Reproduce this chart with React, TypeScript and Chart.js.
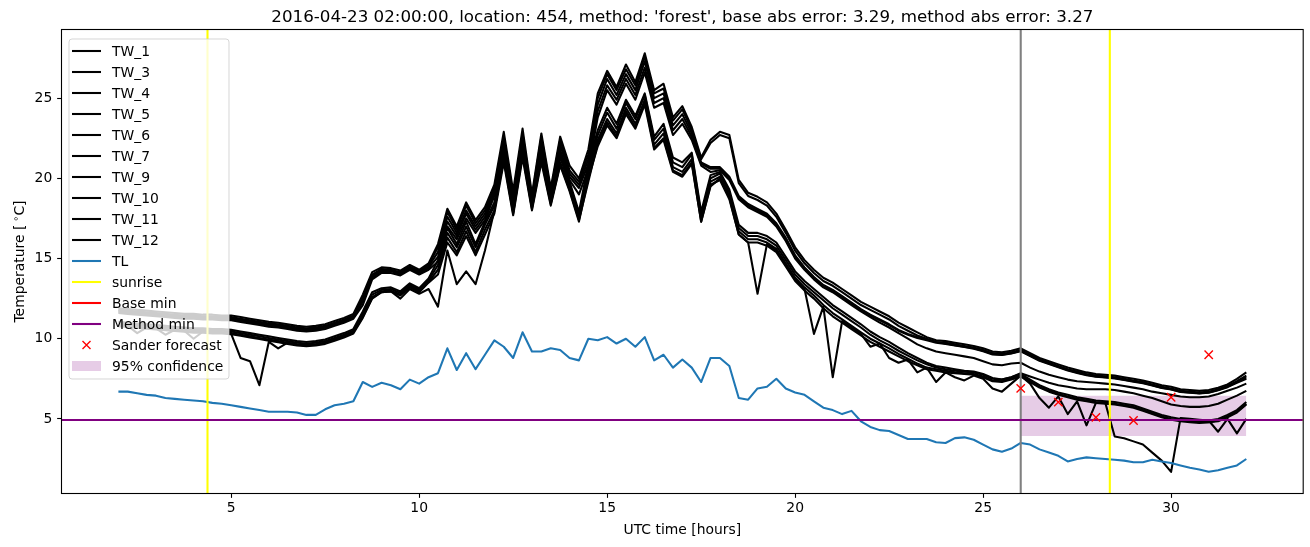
import React, { useEffect, useRef } from "react";
import { Chart, registerables } from "chart.js";

Chart.register(...registerables);

const FONT = '"DejaVu Sans", "Liberation Sans", sans-serif';

const titleText =
  "2016-04-23 02:00:00, location: 454, method: 'forest', base abs error: 3.29, method abs error: 3.27";
const xLabel = "UTC time [hours]";

const xMin = 0.5;
const xMax = 33.5;
const yMin = 0.38;
const yMax = 29.25;
const xTicks = [5, 10, 15, 20, 25, 30];
const yTicks = [5, 10, 15, 20, 25];

const hours = [
  2, 2.25, 2.5, 2.75, 3, 3.25, 3.5, 3.75, 4, 4.25,
  4.5, 4.75, 5, 5.25, 5.5, 5.75, 6, 6.25, 6.5, 6.75,
  7, 7.25, 7.5, 7.75, 8, 8.25, 8.5, 8.75, 9, 9.25,
  9.5, 9.75, 10, 10.25, 10.5, 10.75, 11, 11.25, 11.5, 11.75,
  12, 12.25, 12.5, 12.75, 13, 13.25, 13.5, 13.75, 14, 14.25,
  14.5, 14.75, 15, 15.25, 15.5, 15.75, 16, 16.25, 16.5, 16.75,
  17, 17.25, 17.5, 17.75, 18, 18.25, 18.5, 18.75, 19, 19.25,
  19.5, 19.75, 20, 20.25, 20.5, 20.75, 21, 21.25, 21.5, 21.75,
  22, 22.25, 22.5, 22.75, 23, 23.25, 23.5, 23.75, 24, 24.25,
  24.5, 24.75, 25, 25.25, 25.5, 25.75, 26, 26.25, 26.5, 26.75,
  27, 27.25, 27.5, 27.75, 28, 28.25, 28.5, 28.75, 29, 29.25,
  29.5, 29.75, 30, 30.25, 30.5, 30.75, 31, 31.25, 31.5, 31.75,
  32,
];

const tw1 = [
  11.9, 11.85, 11.8, 11.75, 11.7, 11.65, 11.6, 11.55, 11.55, 11.5,
  11.5, 11.45, 11.45, 11.35, 11.25, 11.15, 11.05, 11.0, 10.9, 10.8,
  10.75, 10.8, 10.9, 11.1, 11.3, 11.55, 12.75, 14.15, 14.45, 14.4,
  14.25, 14.6, 14.3, 14.7, 15.9, 18.1, 17.0, 18.5, 17.4, 18.2,
  19.6, 22.9, 19.2, 23.1, 19.0, 22.8, 19.4, 22.6, 20.8, 20.0,
  21.8, 25.3, 26.7, 25.7, 27.1, 26.0, 27.8, 25.5, 25.9, 23.8,
  24.5, 23.2, 21.3, 22.4, 22.9, 22.7, 19.9, 19.1, 18.85, 18.5,
  17.8, 16.8, 15.7, 14.9, 14.3, 13.8, 13.5, 13.1, 12.7, 12.3,
  12.0, 11.7, 11.4, 11.0, 10.7, 10.4, 10.1, 9.9, 9.85, 9.75,
  9.65, 9.55, 9.4, 9.2, 9.15, 9.25, 9.4, 9.1, 8.8, 8.6,
  8.4, 8.2, 8.05, 7.9, 7.8, 7.75, 7.7, 7.6, 7.5, 7.4,
  7.25, 7.1, 7.0, 6.85, 6.8, 6.75, 6.8, 6.95, 7.15, 7.5,
  7.9,
];

const tw3 = [
  11.8, 11.75, 11.7, 11.65, 11.6, 11.55, 11.5, 11.45, 11.45, 11.4,
  11.4, 11.35, 11.35, 11.25, 11.15, 11.05, 10.95, 10.9, 10.8, 10.7,
  10.65, 10.7, 10.8, 11.0, 11.2, 11.45, 12.6, 14.0, 14.35, 14.3,
  14.15, 14.5, 14.2, 14.6, 15.7, 17.9, 16.8, 18.3, 17.2, 18.0,
  19.4, 22.6, 18.9, 22.8, 18.8, 22.6, 19.2, 22.4, 20.5, 19.8,
  21.5, 25.0, 26.5, 25.5, 26.8, 25.8, 27.6, 25.3, 25.6, 23.6,
  24.3, 23.0, 21.2, 22.2, 22.7, 22.5, 19.7, 18.9, 18.65, 18.3,
  17.6, 16.6, 15.5, 14.7, 14.1, 13.6, 13.3, 12.9, 12.5, 12.1,
  11.8, 11.5, 11.2, 10.8, 10.5, 10.2, 10.0, 9.8, 9.75, 9.65,
  9.55, 9.45, 9.3, 9.1, 9.05, 9.15, 9.3, 9.0, 8.7, 8.5,
  8.3, 8.1, 7.95, 7.8, 7.7, 7.65, 7.6, 7.5, 7.4, 7.3,
  7.15, 7.0, 6.9, 6.75, 6.7, 6.65, 6.7, 6.85, 7.05, 7.35,
  7.7,
];

const tw4 = [
  11.75, 11.7, 11.65, 11.6, 11.55, 11.5, 11.45, 11.4, 11.4, 11.35,
  11.35, 11.3, 11.3, 11.2, 11.1, 11.0, 10.9, 10.85, 10.75, 10.65,
  10.6, 10.65, 10.75, 10.95, 11.15, 11.4, 12.45, 13.9, 14.3, 14.25,
  14.1, 14.45, 14.15, 14.5, 15.4, 17.6, 16.6, 18.0, 17.0, 17.8,
  19.3, 22.2, 18.7, 22.5, 18.6, 22.3, 19.0, 22.1, 20.3, 19.6,
  21.2, 24.6, 26.2, 25.2, 26.5, 25.5, 27.3, 25.0, 25.3, 23.3,
  24.0, 22.8, 21.0, 20.7, 20.7, 20.1, 18.9, 18.4, 18.1, 17.8,
  17.2, 16.3, 15.2, 14.45, 13.85, 13.35, 13.05, 12.65, 12.25, 11.85,
  11.5, 11.2, 10.9, 10.55, 10.3, 10.1, 9.95, 9.8, 9.7, 9.6,
  9.5, 9.4, 9.25, 9.05, 9.0, 9.1, 9.25, 8.95, 8.65, 8.45,
  8.25, 8.05, 7.9, 7.75, 7.65, 7.6, 7.55, 7.45, 7.35, 7.25,
  7.1, 6.95, 6.85, 6.7, 6.65, 6.6, 6.65, 6.8, 7.0, 7.3,
  7.6,
];

const tw5 = [
  11.68, 11.63, 11.58, 11.53, 11.48, 11.43, 11.38, 11.33, 11.33, 11.28,
  11.28, 11.23, 11.23, 11.13, 11.03, 10.93, 10.83, 10.78, 10.68, 10.58,
  10.53, 10.58, 10.68, 10.88, 11.08, 11.33, 12.3, 13.8, 14.22, 14.2,
  14.03, 14.38, 14.08, 14.4, 15.1, 17.3, 16.4, 17.8, 16.8, 17.6,
  19.1, 21.9, 18.5, 22.2, 18.4, 22.0, 18.8, 21.8, 20.1, 19.4,
  20.9, 24.2, 25.8, 24.9, 26.2, 25.2, 26.9, 24.7, 25.0, 23.0,
  23.7, 22.6, 20.9, 20.6, 20.6, 20.0, 18.8, 18.3, 18.0, 17.7,
  17.1, 16.2, 15.1, 14.4, 13.8, 13.3, 13.0, 12.6, 12.2, 11.8,
  11.45, 11.15, 10.85, 10.5, 10.25, 10.05, 9.9, 9.75, 9.68, 9.58,
  9.48, 9.38, 9.22, 9.02, 8.98, 9.08, 9.22, 8.92, 8.62, 8.42,
  8.22, 8.02, 7.87, 7.73, 7.63, 7.58, 7.52, 7.42, 7.32, 7.22,
  7.08, 6.93, 6.83, 6.68, 6.63, 6.58, 6.63, 6.78, 6.98, 7.25,
  7.5,
];

const tw6 = [
  11.6, 11.55, 11.5, 11.45, 11.4, 11.35, 11.3, 11.25, 11.25, 11.2,
  11.2, 11.15, 11.15, 11.05, 10.95, 10.85, 10.75, 10.7, 10.6, 10.5,
  10.45, 10.5, 10.6, 10.8, 11.0, 11.25, 12.1, 13.7, 14.1, 14.1,
  13.95, 14.3, 14.0, 14.3, 14.8, 17.0, 16.2, 17.5, 16.6, 17.4,
  18.9, 21.6, 18.3, 21.9, 18.3, 21.7, 18.6, 21.6, 19.9, 19.0,
  20.6, 23.8, 25.5, 24.6, 25.9, 24.9, 26.6, 24.4, 24.7, 22.7,
  23.4, 22.4, 20.8, 20.4, 20.5, 19.9, 18.7, 18.2, 17.9, 17.6,
  17.0, 16.1, 15.0, 14.3, 13.7, 13.2, 12.9, 12.5, 12.1, 11.7,
  11.35, 11.0, 10.7, 10.35, 10.0, 9.65, 9.4, 9.2, 9.1, 9.0,
  8.9, 8.8, 8.6, 8.4, 8.35, 8.45, 8.5, 8.2, 7.95, 7.75,
  7.6, 7.45, 7.35, 7.3, 7.25, 7.2, 7.15, 7.05, 6.95, 6.85,
  6.7, 6.6, 6.5, 6.4, 6.35, 6.35, 6.4, 6.55, 6.75, 6.95,
  7.2,
];

const tw7 = [
  11.05, 11.0, 10.95, 10.9, 10.85, 10.8, 10.75, 10.7, 10.65, 10.65,
  10.6, 10.6, 10.55, 10.45, 10.35, 10.25, 10.15, 10.05, 9.95, 9.85,
  9.8, 9.85, 9.95, 10.15, 10.35, 10.6, 11.7, 12.9, 13.15, 13.2,
  12.95, 13.45, 13.15, 13.75, 14.9, 16.9, 15.9, 17.3, 15.9, 17.3,
  18.5, 21.9, 18.2, 22.1, 18.5, 21.8, 18.8, 21.5, 19.8, 17.9,
  20.9, 23.0, 24.4, 23.4, 24.9, 23.9, 25.3, 22.6, 23.4, 21.3,
  21.0, 21.6, 17.9, 20.2, 20.4, 19.3, 17.1, 16.6, 16.6, 16.4,
  16.0, 15.1, 14.2, 13.6, 13.1, 12.6, 12.1, 11.7, 11.3, 10.9,
  10.45, 10.1, 9.8, 9.45, 9.1, 8.8, 8.5, 8.3, 8.2, 8.1,
  8.0, 7.95, 7.8, 7.55, 7.45, 7.6, 7.85, 7.65, 7.45, 7.25,
  7.1, 7.0, 6.9, 6.85, 6.85, 6.85, 6.8, 6.7, 6.6, 6.45,
  6.3, 6.1, 5.9, 5.8, 5.75, 5.75, 5.8, 5.95, 6.2, 6.45,
  6.75,
];

const tw9 = [
  10.95, 10.9, 10.85, 10.8, 10.75, 10.7, 10.65, 10.6, 10.55, 10.55,
  10.5, 10.5, 10.45, 10.35, 10.25, 10.15, 10.05, 9.95, 9.85, 9.75,
  9.7, 9.75, 9.85, 10.05, 10.25, 10.5, 11.55, 12.75, 13.05, 13.1,
  12.85, 13.35, 13.05, 13.65, 14.6, 16.6, 15.7, 17.0, 15.7, 17.1,
  18.3, 21.6, 18.1, 21.9, 18.4, 21.6, 18.7, 21.3, 19.6, 17.7,
  20.6, 22.7, 24.1, 23.1, 24.7, 23.7, 25.2, 22.4, 23.1, 21.0,
  20.7, 21.5, 17.7, 20.0, 20.3, 19.1, 16.9, 16.4, 16.4, 16.2,
  15.8, 14.9, 14.0, 13.4, 12.9, 12.4, 11.9, 11.5, 11.1, 10.7,
  10.25, 9.9, 9.6, 9.25, 8.95, 8.65, 8.4, 8.2, 8.1, 8.0,
  7.95, 7.9, 7.75, 7.5, 7.45, 7.6, 7.8, 7.45, 7.1, 6.85,
  6.65, 6.5, 6.35, 6.25, 6.15, 6.1, 6.05, 5.95, 5.85, 5.65,
  5.45, 5.25, 5.1, 5.0, 4.95, 4.9, 4.9, 5.0, 5.25, 5.55,
  6.05,
];

const tw10 = [
  10.85, 10.8, 10.75, 10.7, 10.65, 10.6, 10.55, 10.5, 10.45, 10.45,
  10.4, 10.4, 10.35, 10.25, 10.15, 10.05, 9.95, 9.85, 9.75, 9.65,
  9.6, 9.65, 9.75, 9.95, 10.15, 10.4, 11.4, 12.6, 12.95, 13.0,
  12.75, 13.25, 12.95, 13.55, 14.3, 16.3, 15.4, 16.7, 15.4, 16.8,
  18.0, 21.3, 17.9, 21.6, 18.2, 21.3, 18.5, 21.0, 19.4, 17.5,
  20.3, 22.4, 23.7, 22.8, 24.4, 23.4, 24.9, 22.1, 22.8, 20.7,
  20.4, 21.2, 17.5, 19.8, 20.1, 18.9, 16.7, 16.2, 16.2, 16.0,
  15.6, 14.7, 13.8, 13.2, 12.7, 12.1, 11.6, 11.2, 10.8, 10.4,
  10.0, 9.7, 9.4, 9.05, 8.75, 8.45, 8.2, 8.1, 8.0, 7.9,
  7.85, 7.8, 7.65, 7.4, 7.35, 7.5, 7.7, 7.35, 7.0, 6.75,
  6.55, 6.4, 6.25, 6.15, 6.05, 6.0, 5.95, 5.85, 5.75, 5.55,
  5.35, 5.15, 5.0, 4.9, 4.85, 4.8, 4.8, 4.9, 5.15, 5.45,
  5.95,
];

const tw11 = [
  10.78, 10.73, 10.68, 10.63, 10.58, 10.53, 10.48, 10.43, 10.38, 10.38,
  10.33, 10.33, 10.28, 10.18, 10.08, 9.98, 9.88, 9.78, 9.68, 9.58,
  9.53, 9.58, 9.68, 9.88, 10.08, 10.33, 11.3, 12.5, 12.9, 12.95,
  12.7, 13.2, 12.9, 13.5, 14.0, 16.0, 15.2, 16.4, 15.2, 16.5,
  17.8, 21.0, 17.7, 21.3, 18.0, 21.0, 18.3, 20.8, 19.2, 17.3,
  20.0, 22.0, 23.3, 22.5, 24.0, 23.1, 24.6, 21.8, 22.4, 20.4,
  20.1, 20.9, 17.3, 19.6, 19.9, 18.7, 16.5, 16.0, 16.0, 15.8,
  15.4, 14.5, 13.6, 13.0, 12.5, 11.9, 11.4, 11.0, 10.6, 10.2,
  9.8, 9.5, 9.2, 8.9, 8.6, 8.35, 8.1, 8.0, 7.9, 7.85,
  7.8, 7.75, 7.6, 7.35, 7.3, 7.45, 7.65, 7.3, 6.95, 6.7,
  6.5, 6.35, 6.2, 6.1, 6.0, 5.95, 5.9, 5.8, 5.7, 5.5,
  5.3, 5.1, 4.95, 4.85, 4.8, 4.75, 4.8, 4.85, 5.1, 5.4,
  5.9,
];

const tw12 = [
  10.85, 10.8, 10.35, 10.7, 10.65, 10.25, 10.55, 10.5, 10.0, 10.45,
  10.4, 10.4, 10.3, 8.8, 8.6, 7.1, 9.8, 9.4, 9.75, 9.65,
  9.6, 9.65, 9.75, 9.95, 10.15, 10.4, 11.35, 12.55, 12.9, 12.95,
  12.5, 13.1, 12.8, 13.1, 12.0, 15.5, 13.4, 14.2, 13.4, 15.5,
  18.0, 21.2, 17.8, 21.5, 18.1, 21.2, 18.4, 20.9, 19.3, 17.4,
  19.8, 22.2, 23.5, 22.6, 24.2, 23.2, 24.8, 21.9, 22.5, 20.5,
  20.2, 21.0, 17.3, 19.5, 20.0, 18.8, 16.5, 16.0, 12.8, 15.9,
  15.5, 14.6, 13.7, 13.1, 10.3, 12.0, 7.6, 11.1, 10.7, 10.3,
  9.5, 9.7, 8.8, 8.5, 8.7, 7.9, 8.2, 7.3, 7.9, 7.6,
  7.4, 7.7, 7.5, 6.9, 6.7, 7.2, 7.7, 7.2, 6.3, 5.7,
  6.4, 5.3, 6.1, 4.6, 6.0, 6.0, 3.9, 3.8, 3.6, 3.4,
  2.9, 2.4, 1.7, 5.05, 5.0, 4.95, 4.9, 4.2, 5.0, 4.1,
  5.0,
];

const tl = [
  6.7, 6.7, 6.6, 6.5, 6.45, 6.3, 6.25, 6.2, 6.15, 6.1,
  6.0, 5.95, 5.85, 5.75, 5.65, 5.55, 5.45, 5.45, 5.45, 5.4,
  5.25, 5.25, 5.6, 5.85, 5.95, 6.1, 7.3, 7.0, 7.25, 7.1,
  6.85, 7.45, 7.2, 7.6, 7.85, 9.4, 8.05, 9.1, 8.1, 9.0,
  9.9, 9.5, 8.8, 10.4, 9.2, 9.2, 9.4, 9.3, 8.8, 8.65,
  10.0, 9.9, 10.1, 9.7, 10.0, 9.5, 10.1, 8.65, 9.0, 8.2,
  8.7, 8.2, 7.3, 8.8, 8.8, 8.3, 6.3, 6.2, 6.9, 7.0,
  7.5, 6.9, 6.65, 6.5, 6.1, 5.7, 5.55, 5.3, 5.5, 4.85,
  4.5, 4.3, 4.25, 4.0, 3.75, 3.75, 3.75, 3.55, 3.5, 3.8,
  3.85, 3.7, 3.4, 3.1, 2.95, 3.15, 3.5, 3.4, 3.1, 2.9,
  2.7, 2.35, 2.5, 2.6, 2.55, 2.5, 2.45, 2.4, 2.3, 2.3,
  2.45, 2.35, 2.25, 2.1, 1.95, 1.85, 1.7, 1.8, 1.95, 2.1,
  2.5,
];

const twLabels = ["TW_1", "TW_3", "TW_4", "TW_5", "TW_6", "TW_7", "TW_9", "TW_10", "TW_11", "TW_12"];
const twSeries = [tw1, tw3, tw4, tw5, tw6, tw7, tw9, tw10, tw11, tw12];

const sunriseHours = [4.37, 28.37];
const forecastHour = 26;
const baseMin = 4.93;
const methodMin = 4.93;
const sanderHours = [26, 27, 28, 29, 30, 31];
const sanderTemps = [6.9, 6.05, 5.1, 4.9, 6.35, 9.0];
const confHours = [26, 32];
const confLow = 3.94;
const confHigh = 6.44;

const TL_COLOR = "#1f77b4";
const CONF_COLOR = "rgba(128,0,128,0.2)";
const LW = 2.08;

type LegendItem = { label: string; kind: "line" | "marker" | "patch"; color: string };
const legendItems: LegendItem[] = [
  ...twLabels.map((l) => ({ label: l, kind: "line" as const, color: "#000000" })),
  { label: "TL", kind: "line", color: TL_COLOR },
  { label: "sunrise", kind: "line", color: "#ffff00" },
  { label: "Base min", kind: "line", color: "#ff0000" },
  { label: "Method min", kind: "line", color: "#800080" },
  { label: "Sander forecast", kind: "marker", color: "#ff0000" },
  { label: "95% confidence", kind: "patch", color: CONF_COLOR },
];

const decorPlugin = {
  id: "decor",
  afterDraw(chart: any) {
    const { ctx, chartArea: a } = chart;
    ctx.save();
    // frame
    ctx.strokeStyle = "#000";
    ctx.lineWidth = 1.1;
    ctx.strokeRect(a.left - 0.5, a.top - 0.5, a.right - a.left + 1, a.bottom - a.top + 1);

    // title
    const cx = (a.left + a.right) / 2;
    ctx.fillStyle = "#000";
    ctx.font = `16.7px ${FONT}`;
    ctx.textAlign = "center";
    ctx.textBaseline = "alphabetic";
    ctx.fillText(titleText, cx, 22);

    // x label
    ctx.font = `13.9px ${FONT}`;
    ctx.textBaseline = "middle";
    ctx.fillText(xLabel, cx, 530);

    // y label with superscript degree
    ctx.save();
    ctx.translate(24, (a.top + a.bottom) / 2);
    ctx.rotate(-Math.PI / 2);
    ctx.textAlign = "left";
    ctx.textBaseline = "alphabetic";
    const big = `13.9px ${FONT}`;
    const small = `9.7px ${FONT}`;
    const p1 = "Temperature [";
    const p2 = "\u2218";
    const p3 = "C]";
    ctx.font = big;
    const w1 = ctx.measureText(p1).width;
    const w3 = ctx.measureText(p3).width;
    ctx.font = small;
    const w2 = ctx.measureText(p2).width;
    const gap = 3;
    let x = -(w1 + gap + w2 + w3) / 2;
    ctx.font = big;
    ctx.fillText(p1, x, 0);
    x += w1 + gap;
    ctx.font = small;
    ctx.fillText(p2, x, -5);
    x += w2;
    ctx.font = big;
    ctx.fillText(p3, x, 0);
    ctx.restore();

    // legend
    const lx = a.left + 7;
    const ly = a.top + 9;
    const lw = 160;
    const lh = 340;
    ctx.beginPath();
    const r = 3;
    ctx.moveTo(lx + r, ly);
    ctx.lineTo(lx + lw - r, ly);
    ctx.arcTo(lx + lw, ly, lx + lw, ly + r, r);
    ctx.lineTo(lx + lw, ly + lh - r);
    ctx.arcTo(lx + lw, ly + lh, lx + lw - r, ly + lh, r);
    ctx.lineTo(lx + r, ly + lh);
    ctx.arcTo(lx, ly + lh, lx, ly + lh - r, r);
    ctx.lineTo(lx, ly + r);
    ctx.arcTo(lx, ly, lx + r, ly, r);
    ctx.closePath();
    ctx.fillStyle = "rgba(255,255,255,0.8)";
    ctx.fill();
    ctx.strokeStyle = "rgba(204,204,204,0.8)";
    ctx.lineWidth = 1;
    ctx.stroke();

    ctx.font = `13.9px ${FONT}`;
    ctx.textAlign = "left";
    ctx.textBaseline = "middle";
    legendItems.forEach((it, i) => {
      const cy = ly + 12 + i * 21;
      const hx0 = lx + 3;
      const hx1 = lx + 32;
      if (it.kind === "line") {
        ctx.strokeStyle = it.color;
        ctx.lineWidth = LW;
        ctx.beginPath();
        ctx.moveTo(hx0, cy);
        ctx.lineTo(hx1, cy);
        ctx.stroke();
      } else if (it.kind === "marker") {
        const mx = (hx0 + hx1) / 2;
        const s = 4;
        ctx.strokeStyle = it.color;
        ctx.lineWidth = 1.4;
        ctx.beginPath();
        ctx.moveTo(mx - s, cy - s);
        ctx.lineTo(mx + s, cy + s);
        ctx.moveTo(mx + s, cy - s);
        ctx.lineTo(mx - s, cy + s);
        ctx.stroke();
      } else {
        ctx.fillStyle = it.color;
        ctx.fillRect(hx0, cy - 5, hx1 - hx0, 10);
      }
      ctx.fillStyle = "#000";
      ctx.fillText(it.label, lx + 43, cy + 1);
    });
    ctx.restore();
  },
};

export default function App() {
  const ref = useRef<HTMLCanvasElement | null>(null);

  useEffect(() => {
    document.body.style.margin = "0";
    const canvas = ref.current;
    if (!canvas) return;
    const pts = (ys: number[]) => hours.map((h, i) => ({ x: h, y: ys[i] }));
    const datasets: any[] = [];
    let order = 100;

    datasets.push({
      label: "95% confidence",
      data: confHours.map((h) => ({ x: h, y: confHigh })),
      borderWidth: 0,
      borderColor: "rgba(0,0,0,0)",
      pointRadius: 0,
      backgroundColor: CONF_COLOR,
      fill: { value: confLow },
      order: order--,
    });

    twSeries.forEach((s, k) => {
      datasets.push({
        label: twLabels[k],
        data: pts(s),
        borderColor: "#000000",
        borderWidth: LW,
        borderJoinStyle: "round",
        pointRadius: 0,
        fill: false,
        order: order--,
      });
    });

    datasets.push({
      label: "TL",
      data: pts(tl),
      borderColor: TL_COLOR,
      borderWidth: LW,
      borderJoinStyle: "round",
      pointRadius: 0,
      fill: false,
      order: order--,
    });

    sunriseHours.forEach((h) => {
      datasets.push({
        label: "sunrise",
        data: [
          { x: h, y: yMin },
          { x: h, y: yMax },
        ],
        borderColor: "#ffff00",
        borderWidth: LW,
        pointRadius: 0,
        fill: false,
        order: order--,
      });
    });

    datasets.push({
      label: "forecast",
      data: [
        { x: forecastHour, y: yMin },
        { x: forecastHour, y: yMax },
      ],
      borderColor: "#808080",
      borderWidth: LW,
      pointRadius: 0,
      fill: false,
      order: order--,
    });

    datasets.push({
      label: "Base min",
      data: [
        { x: xMin, y: baseMin },
        { x: xMax, y: baseMin },
      ],
      borderColor: "#ff0000",
      borderWidth: LW,
      pointRadius: 0,
      fill: false,
      order: order--,
    });

    datasets.push({
      label: "Method min",
      data: [
        { x: xMin, y: methodMin },
        { x: xMax, y: methodMin },
      ],
      borderColor: "#800080",
      borderWidth: LW,
      pointRadius: 0,
      fill: false,
      order: order--,
    });

    datasets.push({
      label: "Sander forecast",
      data: sanderHours.map((h, i) => ({ x: h, y: sanderTemps[i] })),
      showLine: false,
      pointStyle: "crossRot",
      pointRadius: 5.9,
      pointBorderColor: "#ff0000",
      pointBorderWidth: 1.4,
      borderColor: "#ff0000",
      backgroundColor: "#ff0000",
      fill: false,
      order: order--,
    });

    const tickFont = { family: FONT, size: 13.9 };

    const chart = new Chart(canvas, {
      type: "line",
      data: { datasets },
      options: {
        responsive: false,
        animation: false,
        devicePixelRatio: 1,
        events: [],
        layout: { padding: { left: 0, right: 7, top: 30, bottom: 0 } },
        plugins: {
          legend: { display: false },
          title: { display: false },
          tooltip: { enabled: false },
        },
        scales: {
          x: {
            type: "linear",
            min: xMin,
            max: xMax,
            afterFit: (s: any) => {
              s.height = 54;
            },
            afterBuildTicks: (s: any) => {
              s.ticks = xTicks.map((v) => ({ value: v }));
            },
            grid: {
              display: true,
              drawOnChartArea: false,
              drawTicks: true,
              tickLength: 4.86,
              tickColor: "#000",
              tickWidth: 1.1,
            },
            border: { display: false },
            ticks: {
              color: "#000",
              font: tickFont,
              padding: 2.5,
              maxRotation: 0,
              autoSkip: false,
              callback: (v: any) => String(v),
            },
          },
          y: {
            type: "linear",
            min: yMin,
            max: yMax,
            afterFit: (s: any) => {
              s.width = 62;
            },
            afterBuildTicks: (s: any) => {
              s.ticks = yTicks.map((v) => ({ value: v }));
            },
            grid: {
              display: true,
              drawOnChartArea: false,
              drawTicks: true,
              tickLength: 4.86,
              tickColor: "#000",
              tickWidth: 1.1,
            },
            border: { display: false },
            ticks: {
              color: "#000",
              font: tickFont,
              padding: 4.86,
              autoSkip: false,
              callback: (v: any) => String(v),
            },
          },
        },
      },
      plugins: [decorPlugin],
    } as any);

    return () => {
      chart.destroy();
    };
  }, []);

  return (
    <div style={{ position: "absolute", left: 0, top: 0, width: 1310, height: 547, background: "#fff" }}>
      <canvas ref={ref} width={1310} height={547} style={{ display: "block", width: 1310, height: 547 }} />
    </div>
  );
}
